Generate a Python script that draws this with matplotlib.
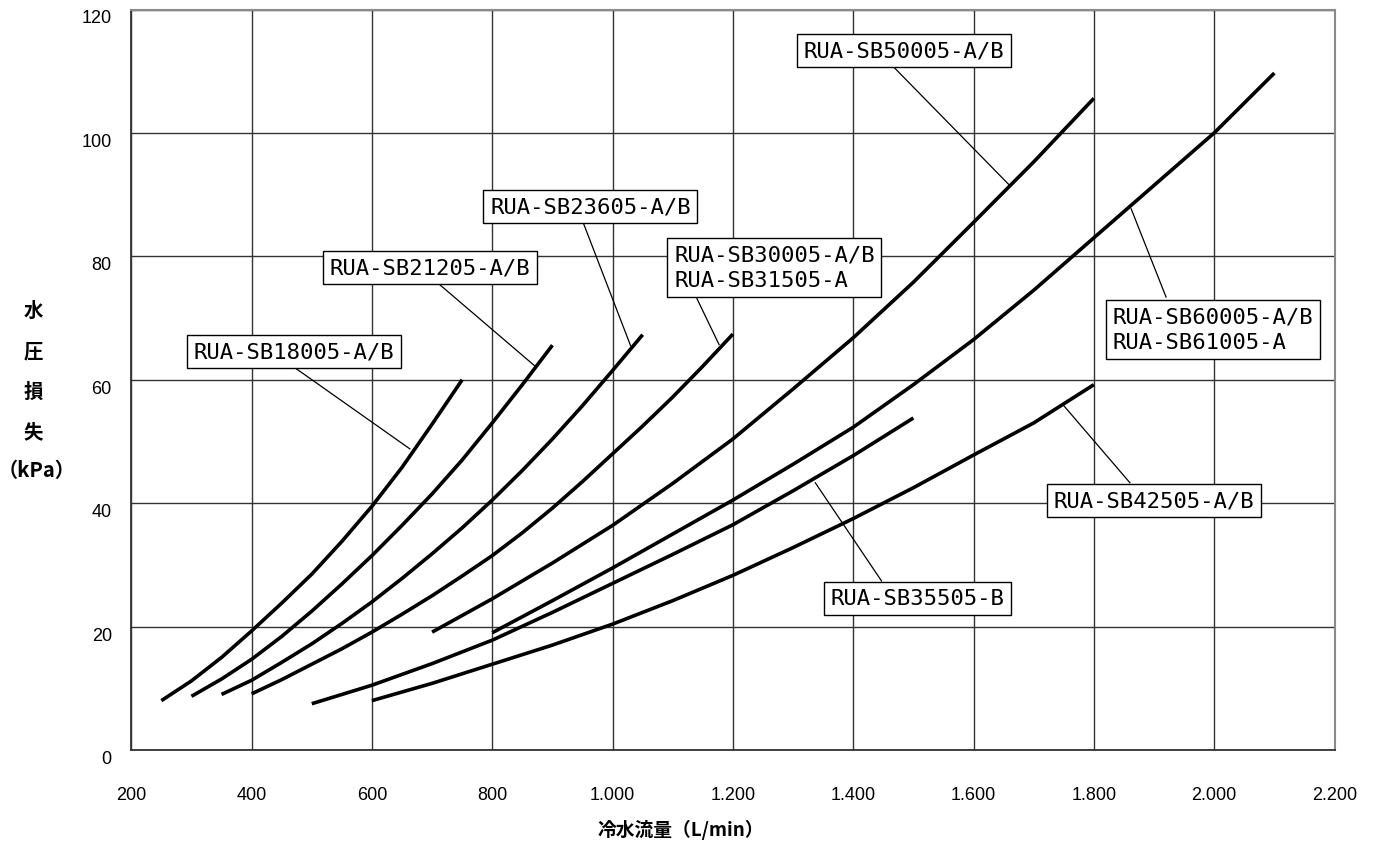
import matplotlib
matplotlib.use("Agg")
import matplotlib.pyplot as plt
from matplotlib.ticker import FixedLocator

# ---------------- data ----------------
x_ticks = [200, 400, 600, 800, 1000, 1200, 1400, 1600, 1800, 2000, 2200]
x_tick_labels = ["200", "400", "600", "800", "1.000", "1.200", "1.400",
                 "1.600", "1.800", "2.000", "2.200"]
y_ticks = [0, 20, 40, 60, 80, 100, 120]

sb18005_x = [250, 300, 350, 400, 450, 500, 550, 600, 650, 700, 750]
sb18005_y = [8.0, 11.2, 15.0, 19.3, 23.8, 28.5, 33.8, 39.5, 45.8, 52.8, 60.0]

sb21205_x = [300, 350, 400, 450, 500, 550, 600, 650, 700, 750, 800, 850, 900]
sb21205_y = [8.7, 11.5, 14.7, 18.4, 22.5, 26.9, 31.5, 36.4, 41.5, 47.0, 53.0, 59.2, 65.6]

sb23605_x = [350, 400, 450, 500, 550, 600, 650, 700, 750, 800, 850, 900, 950, 1000, 1050]
sb23605_y = [9.0, 11.3, 14.2, 17.2, 20.5, 24.0, 27.8, 31.8, 36.0, 40.5, 45.3, 50.4, 55.8, 61.5, 67.3]

sb30005_x = [400, 450, 500, 550, 600, 650, 700, 750, 800, 850, 900, 950, 1000, 1050, 1100, 1150, 1200]
sb30005_y = [9.1, 11.4, 13.9, 16.4, 19.1, 22.0, 25.0, 28.2, 31.5, 35.2, 39.2, 43.5, 48.0,
             52.5, 57.2, 62.2, 67.4]

sb50005_x = [700, 800, 900, 1000, 1100, 1200, 1300, 1400, 1500, 1600, 1700, 1800]
sb50005_y = [19.1, 24.5, 30.3, 36.4, 43.2, 50.4, 58.5, 66.8, 75.8, 85.5, 95.3, 105.6]

sb60005_x = [800, 900, 1000, 1100, 1200, 1300, 1400, 1500, 1600, 1700, 1800, 1900, 2000, 2100]
sb60005_y = [19.0, 24.2, 29.5, 35.0, 40.5, 46.3, 52.3, 59.2, 66.5, 74.5, 83.0, 91.5, 100.0, 109.7]

sb35505_x = [500, 600, 700, 800, 900, 1000, 1100, 1200, 1300, 1400, 1500]
sb35505_y = [7.5, 10.5, 14.0, 17.8, 22.3, 27.0, 31.7, 36.5, 42.0, 47.7, 53.8]

sb42505_x = [600, 700, 800, 900, 1000, 1100, 1200, 1300, 1400, 1500, 1600, 1700, 1800]
sb42505_y = [8.0, 10.8, 13.9, 17.0, 20.4, 24.2, 28.3, 32.8, 37.5, 42.5, 47.8, 53.0, 59.2]

series = [
    (sb18005_x, sb18005_y),
    (sb21205_x, sb21205_y),
    (sb23605_x, sb23605_y),
    (sb30005_x, sb30005_y),
    (sb50005_x, sb50005_y),
    (sb60005_x, sb60005_y),
    (sb35505_x, sb35505_y),
    (sb42505_x, sb42505_y),
]

# label text, box centre (data), leader start (box edge), leader end (on curve)
label_texts = ["RUA-SB18005-A/B", "RUA-SB21205-A/B", "RUA-SB23605-A/B",
               "RUA-SB30005-A/B\nRUA-SB31505-A", "RUA-SB50005-A/B",
               "RUA-SB60005-A/B\nRUA-SB61005-A", "RUA-SB42505-A/B",
               "RUA-SB35505-B"]
label_box_x = [470, 697, 963, 1269, 1484, 1998, 1900, 1507]
label_box_y = [64.6, 78.2, 88.1, 78.2, 113.4, 68.2, 40.4, 24.6]
leader_from_x = [474, 708, 951, 1140, 1468, 1920, 1860, 1447]
leader_from_y = [61.8, 75.8, 85.5, 73.2, 110.6, 73.4, 43.3, 27.4]
leader_to_x = [663, 870, 1030, 1177, 1660, 1862, 1750, 1337]
leader_to_y = [48.8, 62.3, 65.5, 65.7, 91.5, 87.7, 55.8, 43.3]

# ---------------- figure ----------------
W, H = 1381, 845
fig = plt.figure(figsize=(W / 100, H / 100), dpi=100)
ax = fig.add_axes([131.3 / W, 1 - 751 / H, (1334.5 - 131.3) / W, (751 - 10.5) / H])

ax.set_xlim(200, 2200)
ax.set_ylim(0, 120)
ax.xaxis.set_major_locator(FixedLocator(x_ticks))
ax.yaxis.set_major_locator(FixedLocator(y_ticks))
ax.set_xticklabels(x_tick_labels, fontsize=13, family="Liberation Sans")
ax.set_yticklabels([str(v) for v in y_ticks], fontsize=13, family="Liberation Sans")
for lab in ax.get_yticklabels():
    lab.set_verticalalignment("top")
ax.tick_params(axis="both", length=0)
ax.tick_params(axis="x", pad=26)
ax.tick_params(axis="y", pad=14)

ax.grid(True, color="#333333", linewidth=1.0, zorder=0)
ax.set_axisbelow(True)
for side in ["left", "bottom"]:
    ax.spines[side].set_color("#333333")
    ax.spines[side].set_linewidth(1.3)
for side in ["top", "right"]:
    ax.spines[side].set_color("#8a8a8a")
    ax.spines[side].set_linewidth(1.5)

for xs, ys in series:
    ax.plot(xs, ys, color="black", linewidth=2.6, solid_capstyle="butt",
            solid_joinstyle="round", zorder=3)

for i, txt in enumerate(label_texts):
    ax.plot([leader_from_x[i], leader_to_x[i]], [leader_from_y[i], leader_to_y[i]],
            color="black", linewidth=0.9, zorder=2)
    ax.text(label_box_x[i], label_box_y[i], txt, ha="center", va="center",
            multialignment="left", fontsize=16, family="DejaVu Sans Mono",
            linespacing=1.35, zorder=4,
            bbox=dict(boxstyle="square,pad=0.3", facecolor="white",
                      edgecolor="black", linewidth=1.0))

cjk = ["Noto Sans CJK JP", "DejaVu Sans"]
fig.text(681 / W, 1 - 830 / H, "冷水流量（L/min）", ha="center", va="center",
         fontsize=13.5, fontweight="bold", family=cjk)
for ch, py in zip(["水", "圧", "損", "失"], [311, 352, 392, 433]):
    fig.text(33 / W, 1 - py / H, ch, ha="center", va="center",
             fontsize=14, fontweight="bold", family=cjk)
fig.text(37 / W, 1 - 470 / H, "（kPa）", ha="center", va="center",
         fontsize=14.5, fontweight="bold", family=cjk)

fig.savefig("out.png", dpi=100, facecolor="white")
